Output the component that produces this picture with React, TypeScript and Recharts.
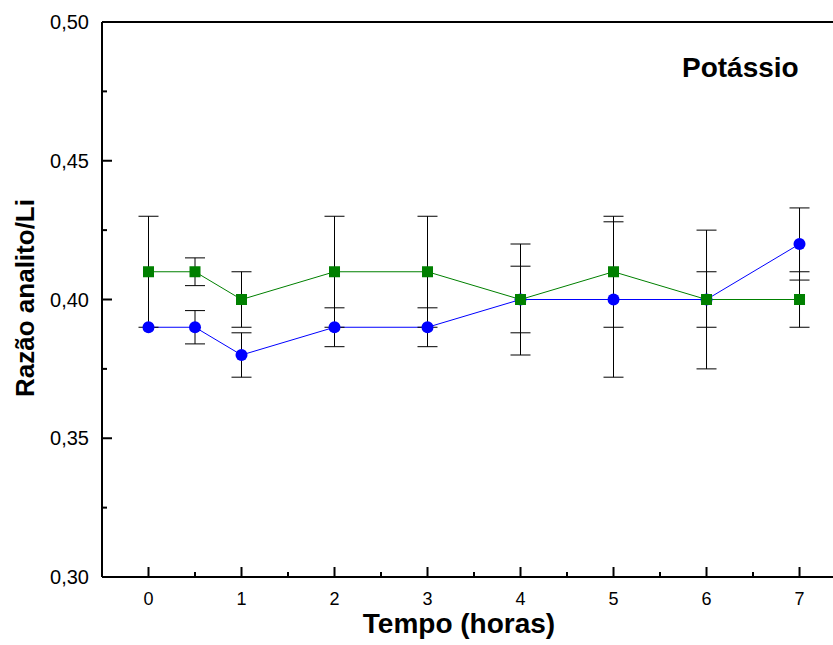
import * as React from "react"
import { ErrorBar, Line, LineChart, ReferenceLine, XAxis, YAxis } from "recharts"

// tempo (horas) e razão analito/Li para as duas séries
const tempo = [0, 0.5, 1, 2, 3, 4, 5, 6, 7]
const serieAzul = [0.39, 0.39, 0.38, 0.39, 0.39, 0.4, 0.4, 0.4, 0.42]
const erroAzul = [0, 0.006, 0.008, 0.007, 0.007, 0.012, 0.028, 0.01, 0.013]
const serieVerde = [0.41, 0.41, 0.4, 0.41, 0.41, 0.4, 0.41, 0.4, 0.4]
const erroVerde = [0.02, 0.005, 0.01, 0.02, 0.02, 0.02, 0.02, 0.025, 0.01]

const xMajor = [0, 1, 2, 3, 4, 5, 6, 7]
const xMinor = [0.5, 1.5, 2.5, 3.5, 4.5, 5.5, 6.5]
const yMajor = [0.3, 0.35, 0.4, 0.45, 0.5]
const yMinor = [0.325, 0.375, 0.425, 0.475]

const BLUE = "#0000ff"
const GREEN = "#008000"
const FONT = "'Liberation Sans', Arial, sans-serif"

const data = tempo.map((t, i) => ({
    t,
    azul: serieAzul[i],
    erroAzul: erroAzul[i],
    verde: serieVerde[i],
    erroVerde: erroVerde[i],
}))

const X_MARGIN = 10
const Y_MARGIN = 13

const isMajor = (list: number[], v: number) => list.some((m) => Math.abs(m - v) < 1e-9)

const XTick = (props: any) => {
    const { x, y, payload } = props
    const major = isMajor(xMajor, payload.value)
    const axisY = y - X_MARGIN
    return (
        <g>
            <line x1={x} x2={x} y1={axisY} y2={axisY - (major ? 10 : 5)} stroke="#000" strokeWidth={2} />
            {major ? (
                <text x={x} y={axisY + 28} textAnchor="middle" fontSize={18} fontFamily={FONT} fill="#000">
                    {payload.value}
                </text>
            ) : null}
        </g>
    )
}

const YTick = (props: any) => {
    const { x, y, payload } = props
    const major = isMajor(yMajor, payload.value)
    const axisX = x + Y_MARGIN
    return (
        <g>
            <line x1={axisX} x2={axisX + (major ? 10 : 5)} y1={y} y2={y} stroke="#000" strokeWidth={2} />
            {major ? (
                <text x={x} y={y + 7} textAnchor="end" fontSize={20} fontFamily={FONT} fill="#000">
                    {payload.value.toFixed(2).replace(".", ",")}
                </text>
            ) : null}
        </g>
    )
}

const Quadrado = (props: any) => {
    const { cx, cy } = props
    if (cx == null || cy == null) return null
    return <rect x={cx - 5.5} y={cy - 5.5} width={11} height={11} fill={GREEN} />
}

const Circulo = (props: any) => {
    const { cx, cy } = props
    if (cx == null || cy == null) return null
    return <circle cx={cx} cy={cy} r={6} fill={BLUE} />
}

export default function App() {
    return (
        <div style={{ position: "absolute", left: 0, top: 0, width: 833, height: 645, background: "#fff" }}>
            <LineChart width={833} height={645} data={data} margin={{ top: 22, right: 0, left: 0, bottom: 0 }}>
                <XAxis
                    dataKey="t"
                    type="number"
                    domain={[-0.5, 7.36]}
                    ticks={[...xMajor, ...xMinor].sort((a, b) => a - b)}
                    interval={0}
                    tickSize={0}
                    tickMargin={X_MARGIN}
                    tick={<XTick />}
                    tickLine={false}
                    axisLine={{ stroke: "#000", strokeWidth: 2 }}
                    height={68}
                    allowDataOverflow
                />
                <YAxis
                    type="number"
                    domain={[0.3, 0.5]}
                    ticks={[...yMajor, ...yMinor].sort((a, b) => a - b)}
                    interval={0}
                    tickSize={0}
                    tickMargin={Y_MARGIN}
                    tick={<YTick />}
                    tickLine={false}
                    axisLine={{ stroke: "#000", strokeWidth: 2 }}
                    width={102}
                    allowDataOverflow
                />
                <ReferenceLine y={0.5} stroke="#000" strokeWidth={2} />
                <Line
                    dataKey="azul"
                    stroke={BLUE}
                    strokeWidth={1}
                    dot={<Circulo />}
                    activeDot={false}
                    isAnimationActive={false}
                >
                    <ErrorBar dataKey="erroAzul" direction="y" width={10} stroke="#000" strokeWidth={1} />
                </Line>
                <Line
                    dataKey="verde"
                    stroke={GREEN}
                    strokeWidth={1}
                    dot={<Quadrado />}
                    activeDot={false}
                    isAnimationActive={false}
                >
                    <ErrorBar dataKey="erroVerde" direction="y" width={10} stroke="#000" strokeWidth={1} />
                </Line>
                <text x={25} y={298} transform="rotate(-90 25 298)" textAnchor="middle" dominantBaseline="central" fontSize={26} fontWeight="bold" fontFamily={FONT} fill="#000">
                    Razão analito/Li
                </text>
                <text x={459} y={633} textAnchor="middle" fontSize={28} fontWeight="bold" fontFamily={FONT} fill="#000">
                    Tempo (horas)
                </text>
                <text x={682} y={77} fontSize={28} fontWeight="bold" fontFamily={FONT} fill="#000">
                    Potássio
                </text>
            </LineChart>
        </div>
    )
}
